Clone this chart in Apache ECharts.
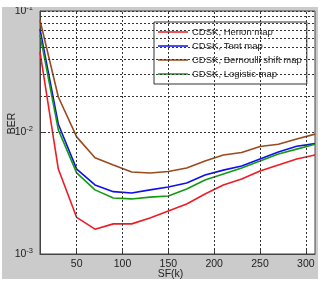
<!DOCTYPE html>
<html>
<head>
<meta charset="utf-8">
<script src="https://cdn.jsdelivr.net/npm/echarts@6/dist/echarts.min.js"></script>
<style>
  body { margin: 0; background: #fff; }
  #chart_area { position: absolute; left: 2px; top: 7px; width: 316px; height: 272px; overflow: hidden; }
</style>
</head>
<body>
<div id="chart_area"></div>
<script>
// spreading factor SF(k)
const sfList = [10, 30, 50, 70, 90, 110, 130, 150, 170, 190, 210, 230, 250, 270, 290, 310];

// BER
const henonBer = [0.046, 0.0050, 0.0020, 0.0016, 0.00177, 0.00177, 0.00198, 0.00226, 0.00258, 0.00312, 0.0037, 0.00414, 0.00482, 0.0054, 0.00605, 0.00653];
const tentBer = [0.071, 0.0117, 0.0050, 0.0037, 0.00326, 0.00318, 0.00337, 0.00356, 0.00384, 0.00447, 0.0049, 0.0053, 0.00605, 0.0069, 0.0077, 0.0081];
const bernoulliBer = [0.084, 0.0196, 0.0092, 0.0062, 0.0054, 0.00473, 0.00464, 0.00478, 0.0051, 0.00582, 0.00653, 0.00684, 0.00767, 0.0080, 0.00885, 0.0097];
const logisticBer = [0.064, 0.0105, 0.00465, 0.00337, 0.00289, 0.00284, 0.00294, 0.0030, 0.00343, 0.00406, 0.00455, 0.0051, 0.00582, 0.00665, 0.0073, 0.0080];

const seriesNames = ['CDSK, Henon map', 'CDSK, Tent map', 'CDSK, Bernoulli shift map', 'CDSK, Logistic map'];
const seriesColors = ['#ee1c24', '#1010ee', '#9a4a1c', '#139a13'];

const xTicks = [50, 100, 150, 200, 250, 300];
const yMinorGrid = [0.002, 0.003, 0.004, 0.005, 0.006, 0.007, 0.008, 0.009,
                    0.02, 0.03, 0.04, 0.05, 0.06, 0.07, 0.08, 0.09];

const fontName = '"Liberation Sans", Arial, sans-serif';
// thin horizontal bar inside a 30x12 box (tiny corner specks keep the box size)
const lineIcon = 'path://M0,0 L0.01,0 L0,0.01 Z M0,5.2 L30,5.2 L30,6.8 L0,6.8 Z M30,12 L29.99,12 L30,11.99 Z';

displayBerChart();

function displayBerChart() {
    let myChart = echarts.init(document.getElementById('chart_area'));

    let gridStyle = { color: '#333', type: [2, 2], width: 1 };

    let dataSets = [henonBer, tentBer, bernoulliBer, logisticBer];
    let lineSeries = dataSets.map(function (vals, i) {
        return {
            name: seriesNames[i],
            type: 'line',
            data: sfList.map(function (sf, j) { return [sf, vals[j]]; }),
            symbol: 'none',
            color: seriesColors[i],
            lineStyle: { width: 1.6, color: seriesColors[i] },
            z: 3
        };
    });

    // grid lines sit under the curves
    let gridSeries = {
        type: 'line',
        data: [],
        silent: true,
        z: 1,
        markLine: {
            silent: true,
            symbol: 'none',
            label: { show: false },
            lineStyle: gridStyle,
            animation: false,
            data: xTicks.map(function (v) { return { xAxis: v }; })
                .concat(yMinorGrid.map(function (v) { return { yAxis: v }; }))
        }
    };

    let option = {
        backgroundColor: '#cbcbcb',
        animation: false,
        textStyle: { fontFamily: fontName },
        grid: {
            left: 38, top: 4, right: 3, bottom: 25,
            outerBoundsMode: 'none',
            containLabel: false,
            show: true,
            backgroundColor: '#fff',
            borderColor: '#444',
            borderWidth: 1
        },
        legend: {
            data: seriesNames.map(function (n) { return { name: n, icon: lineIcon }; }),
            orient: 'vertical',
            left: 152,
            top: 15,
            backgroundColor: '#fff',
            borderColor: '#333',
            borderWidth: 1,
            borderRadius: 0,
            padding: [4, 5, 4, 4],
            itemWidth: 30,
            itemHeight: 12,
            itemGap: 2,
            textStyle: { fontSize: 9.5, color: '#222', fontFamily: fontName, padding: [0, 0, 0, -1] }
        },
        xAxis: {
            type: 'value',
            min: 10,
            max: 310,
            name: 'SF(k)',
            nameLocation: 'middle',
            nameGap: 15,
            nameMoveOverlap: false,
            nameTextStyle: { fontSize: 10.5, color: '#222', padding: [0, 14, 0, 0] },
            axisLine: { show: true, lineStyle: { color: '#444' } },
            axisTick: { show: true, inside: true, length: 4, customValues: xTicks, lineStyle: { color: '#444' } },
            axisLabel: { fontSize: 10.5, color: '#222', margin: 5, customValues: xTicks },
            splitLine: { show: false }
        },
        yAxis: {
            type: 'log',
            logBase: 10,
            min: 0.001,
            max: 0.1,
            name: 'BER',
            nameLocation: 'middle',
            nameGap: 22,
            nameMoveOverlap: false,
            nameTextStyle: { fontSize: 10.5, color: '#222', padding: [0, 0, 0, 18] },
            axisLine: { show: true, lineStyle: { color: '#444' } },
            axisTick: { show: true, inside: true, length: 4, lineStyle: { color: '#444' } },
            axisLabel: {
                margin: 7,
                formatter: function (v) {
                    return '{b|10}{e|' + Math.round(Math.log10(v)) + '}';
                },
                rich: {
                    b: { fontSize: 10.5, color: '#222', lineHeight: 14 },
                    e: { fontSize: 7.5, color: '#222', verticalAlign: 'top', padding: [0, 0, 7, 0] }
                }
            },
            splitLine: { show: true, lineStyle: gridStyle }
        },
        series: [gridSeries].concat(lineSeries)
    };

    myChart.setOption(option);
}
</script>
</body>
</html>
